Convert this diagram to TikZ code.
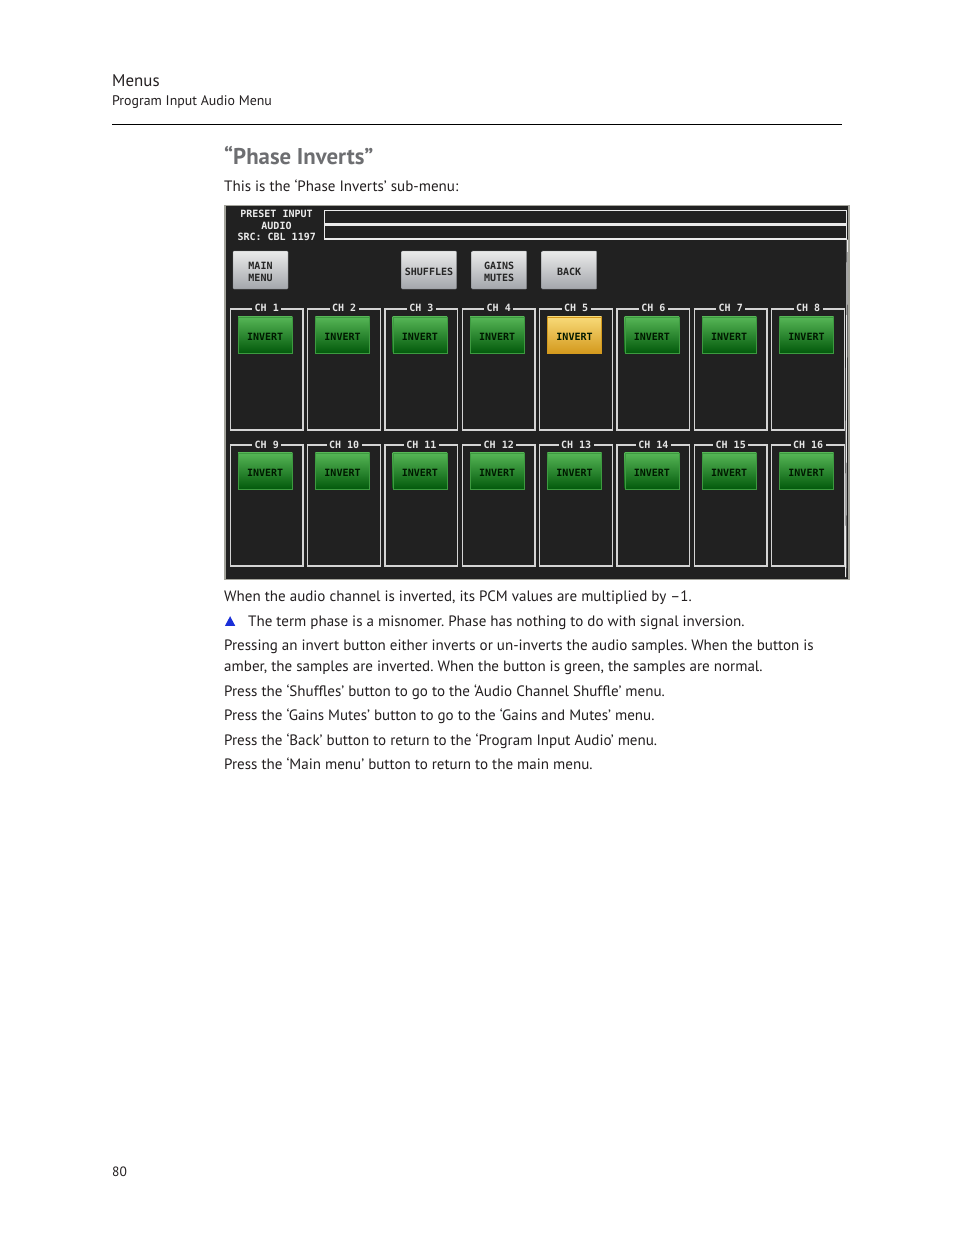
\documentclass[tikz,border=0pt]{standalone}
\usepackage{fontspec}
\setmainfont{PT Sans}
\newfontfamily\pixfont{DejaVu Sans Mono}
\definecolor{scrbg}{HTML}{212121}
\definecolor{scrframe}{HTML}{A4A49C}
\definecolor{boxline}{HTML}{D4D4D4}
\definecolor{greentop}{HTML}{56B656}
\definecolor{greenbot}{HTML}{035A0C}
\definecolor{ambtop}{HTML}{F8DA78}
\definecolor{ambbot}{HTML}{D49A1E}
\definecolor{greytop}{HTML}{EBEBEB}
\definecolor{greybot}{HTML}{A3A6AB}
\definecolor{bodytext}{HTML}{231F20}
\definecolor{headgray}{HTML}{6D6E71}
\definecolor{triblue}{HTML}{1A2FD8}
\tikzset{
  txt/.style={inner sep=0pt, anchor=base west, text=bodytext, font=\frenchspacing\fontsize{15.05}{17}\selectfont},
  screenbox/.style={draw=scrframe, line width=1.2pt, fill=scrbg, anchor=north west, inner sep=0pt},
  hdrbox/.style={draw=white!92!black, line width=1.2pt, anchor=north west, inner sep=0pt},
  pix/.style={font=\pixfont\bfseries\fontsize{10}{11.5}\selectfont},
  hdrtxt/.style={pix, text=white!92!black, inner sep=0pt},
  greybtn/.style={top color=greytop, bottom color=greybot, draw=greybot!80!black, line width=0.4pt,
     minimum width=55pt, minimum height=38pt, inner sep=0pt, rounded corners=0.8pt,
     label={[pix, align=center, text=black!85, yshift=-1.8pt, inner sep=0pt]center:#1}},
  chbox/.style={draw=boxline, line width=1.4pt, anchor=north west, minimum width=72.7pt, minimum height=121pt, inner sep=0pt},
  chlabel/.style={pix, fill=scrbg, text=white!90!black, inner xsep=2.5pt, inner ysep=0.5pt},
  invgreen/.style={top color=greentop, bottom color=greenbot, draw=greentop!70!greenbot, line width=0.4pt,
     minimum width=54.3pt, minimum height=36pt, inner sep=0pt,
     label={[pix, text=black!90!green, yshift=-1.8pt, inner sep=0pt]center:INVERT}},
  invamber/.style={invgreen, top color=ambtop, bottom color=ambbot, draw=ambbot},
}
\begin{document}
\begin{tikzpicture}[x=1pt,y=-1pt]
\useasboundingbox[fill=white] (0,0) rectangle (954,1235);
% page header
\node[txt, font=\fontsize{16.9}{19}\selectfont] (menus) at (112,86.5) {Menus};
\node[txt, font=\fontsize{13.9}{16}\selectfont] (sub) at (112,105.5) {Program Input Audio Menu};
\coordinate (ruleL) at (112,124.5);
\coordinate (ruleR) at (842,124.5);
\draw[line width=0.9pt, black] (ruleL) -- (ruleR);
\node[txt, text=headgray, font=\fontsize{22.8}{26}\selectfont\bfseries] (title) at (224,164) {“Phase Inverts”};
\node[txt] (intro) at (224,191) {This is the ‘Phase Inverts’ sub-menu:};
% screen
\node[screenbox, minimum width=624pt, minimum height=374pt] (screen) at (224.4,205.2) {};
\node[hdrbox, minimum width=522pt, minimum height=13.6pt] (field1) at (324,209.7) {};
\node[hdrbox, minimum width=522pt, minimum height=13.6pt] (field2) at (324,224.7) {};
\coordinate (rlineB) at (845.6,577);
\draw[white!92!black, line width=1.2pt] (field2.south east) -- (rlineB);
\node[hdrtxt] (h1) at (276.5,213.5) {PRESET INPUT};
\node[hdrtxt] (h2) at (276.5,225.5) {AUDIO};
\node[hdrtxt] (h3) at (276.7,237.3) {SRC: CBL 1197};
% top buttons
\node[greybtn={MAIN\\MENU}] (mainmenu) at (260.5,270) {};
\node[greybtn={SHUFFLES}] (shuffles) at (429,270) {};
\node[greybtn={GAINS\\MUTES}] (gains) at (499.2,270) {};
\node[greybtn={BACK}] (back) at (569.2,270) {};
% channel boxes
\foreach \i in {1,...,8}{
  \pgfmathsetmacro{\bx}{229.7+(\i-1)*77.33}
  \node[chbox] (ch\i) at (\bx,308.3) {};
  \node[chlabel] (chl\i) at (ch\i.north) {CH \i};
  \pgfmathsetmacro{\cx}{\bx+35.5}
  \ifnum\i=5
    \node[invamber] (inv\i) at (\cx,334.9) {};
  \else
    \node[invgreen] (inv\i) at (\cx,334.9) {};
  \fi
}
\foreach \i in {9,...,16}{
  \pgfmathsetmacro{\bx}{229.7+(\i-9)*77.33}
  \node[chbox] (ch\i) at (\bx,444.4) {};
  \node[chlabel] (chl\i) at (ch\i.north) {CH \i};
  \pgfmathsetmacro{\cx}{\bx+35.5}
  \node[invgreen] (inv\i) at (\cx,470.9) {};
}
% body text
\node[txt] (p1) at (224,601.5) {When the audio channel is inverted, its PCM values are multiplied by –1.};
\fill[triblue] (225,625.8) -- (235.2,625.8) -- (230.1,616.2) -- cycle;
\node[txt] (p2) at (248,626) {The term phase is a misnomer. Phase has nothing to do with signal inversion.};
\node[txt] (p3) at (224,650.5) {Pressing an invert button either inverts or un-inverts the audio samples. When the button is};
\node[txt] (p3b) at (224,671.5) {amber, the samples are inverted. When the button is green, the samples are normal.};
\node[txt] (p4) at (224,696) {Press the ‘Shuffles’ button to go to the ‘Audio Channel Shuffle’ menu.};
\node[txt] (p5) at (224,720.5) {Press the ‘Gains Mutes’ button to go to the ‘Gains and Mutes’ menu.};
\node[txt] (p6) at (224,745) {Press the ‘Back’ button to return to the ‘Program Input Audio’ menu.};
\node[txt] (p7) at (224,769.5) {Press the ‘Main menu’ button to return to the main menu.};
\node[txt, font=\fontsize{13.5}{16}\selectfont] (pageno) at (112,1176) {80};
\end{tikzpicture}
\end{document}
